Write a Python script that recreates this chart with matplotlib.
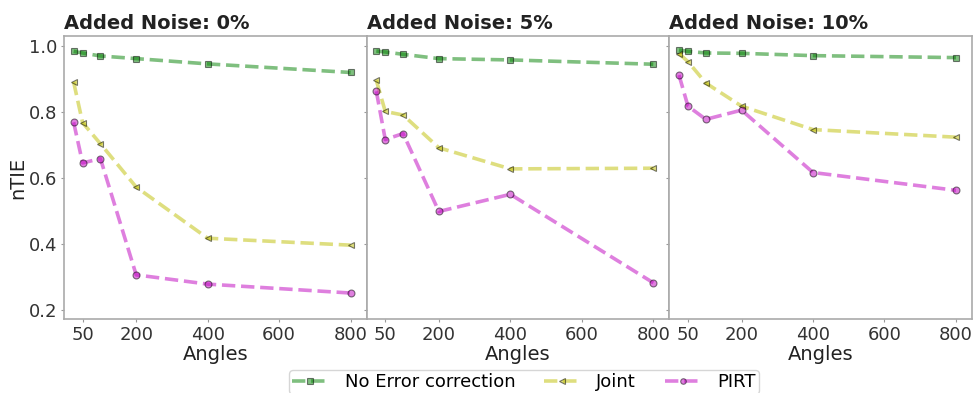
import matplotlib
matplotlib.use('Agg')
import matplotlib.pyplot as plt
import numpy as np

# Data
angles = [25, 50, 100, 200, 400, 800]
noise_titles = ['Added Noise: 0%', 'Added Noise: 5%', 'Added Noise: 10%']

no_corr = [
    [0.984, 0.979, 0.970, 0.962, 0.946, 0.920],
    [0.985, 0.982, 0.975, 0.962, 0.958, 0.945],
    [0.988, 0.984, 0.979, 0.978, 0.971, 0.965],
]
joint = [
    [0.891, 0.768, 0.704, 0.573, 0.418, 0.397],
    [0.896, 0.802, 0.791, 0.692, 0.628, 0.630],
    [0.977, 0.953, 0.888, 0.818, 0.747, 0.724],
]
pirt = [
    [0.769, 0.646, 0.659, 0.307, 0.279, 0.252],
    [0.863, 0.717, 0.735, 0.499, 0.551, 0.283],
    [0.912, 0.818, 0.778, 0.806, 0.617, 0.563],
]

series = [
    ('No Error correction', no_corr, 'g', 's'),
    ('Joint', joint, 'y', '<'),
    ('PIRT', pirt, 'm', 'o'),
]

fig, axes = plt.subplots(1, 3, figsize=(9.74, 3.93), dpi=100, sharey=True)
fig.subplots_adjust(left=0.0657, right=0.998, top=0.908, bottom=0.188, wspace=0)

for i, ax in enumerate(axes):
    for name, vals, c, m in series:
        ax.plot(angles, vals[i], linestyle='--', color=c, marker=m, lw=2.6,
                ms=5, alpha=0.5, mec='k', mew=0.8, label=name)
    ax.set_title(noise_titles[i], loc='left', fontsize=14, fontweight='bold',
                 pad=5, color='#222222')
    ax.set_xticks([50, 200, 400, 600, 800])
    ax.set_xlim(-2, 845)
    ax.set_ylim(0.173, 1.03)
    ax.set_yticks([0.2, 0.4, 0.6, 0.8, 1.0])
    ax.set_xlabel('Angles', fontsize=14, labelpad=1, color='#222222')
    ax.tick_params(labelsize=13, labelcolor='#333333', color='#999999',
                   length=2.5, pad=2.5)
    for sp in ax.spines.values():
        sp.set_color('#aaaaaa')
        sp.set_linewidth(1.2)

axes[0].set_ylabel('nTIE', fontsize=14, color='#222222', labelpad=1)

handles, labels = axes[0].get_legend_handles_labels()
leg = fig.legend(handles, labels, loc='lower center', bbox_to_anchor=(0.538, -0.025),
                 ncol=3, fontsize=13, frameon=True, handlelength=2.0, markerscale=0.8,
                 columnspacing=1.6, borderpad=0.15, handletextpad=0.9)
leg.get_frame().set_edgecolor('#cccccc')

plt.savefig('out.png', dpi=100)
